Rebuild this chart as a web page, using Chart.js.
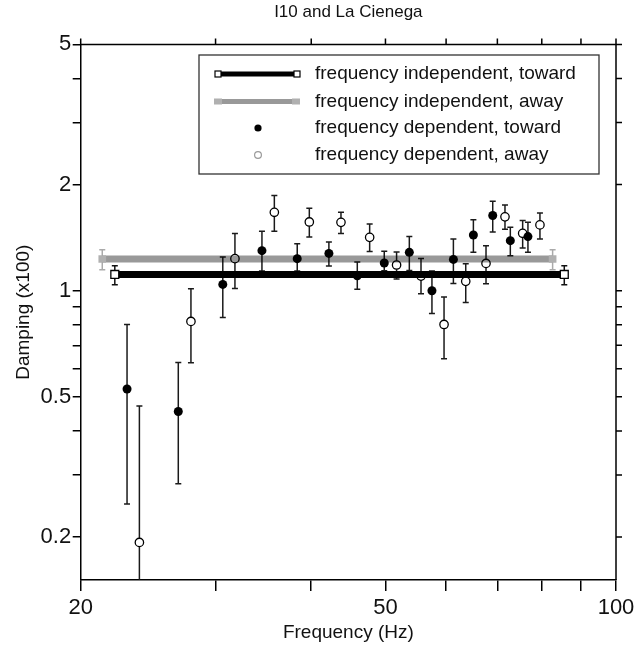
<!DOCTYPE html>
<html lang="en">
<head>
    <meta charset="UTF-8">
    <title>I10 and La Cienega</title>
    <script src="https://cdn.jsdelivr.net/npm/chart.js"></script>
    <style>
        html, body { margin: 0; padding: 0; background: #fff; }
        #wrap { width: 636px; height: 653px; }
    </style>
</head>
<body>
    <div id="wrap"><canvas id="chart" width="636" height="653"></canvas></div>

    <script>
        // frequency dependent damping, toward
        const freqToward = [22.99, 26.82, 30.66, 34.49, 38.35, 42.18, 45.94, 49.82, 53.72, 57.5, 61.33, 65.13, 69.03, 72.78, 76.74];
        const dampToward = [0.526, 0.454, 1.042, 1.299, 1.233, 1.276, 1.103, 1.198, 1.285, 1.0, 1.227, 1.439, 1.634, 1.387, 1.424];
        const lowToward  = [0.248, 0.283, 0.840, 1.137, 1.137, 1.175, 1.009, 1.140, 1.142, 0.862, 1.049, 1.285, 1.468, 1.257, 1.285];
        const highToward = [0.802, 0.626, 1.247, 1.474, 1.360, 1.375, 1.206, 1.293, 1.424, 1.137, 1.403, 1.591, 1.794, 1.513, 1.563];

        // frequency dependent damping, away
        const freqAway = [23.86, 27.86, 31.8, 35.8, 39.77, 43.74, 47.68, 51.7, 55.64, 59.63, 63.65, 67.65, 71.62, 75.53, 79.56];
        const dampAway = [0.193, 0.818, 1.233, 1.669, 1.567, 1.563, 1.417, 1.183, 1.10, 0.802, 1.063, 1.195, 1.620, 1.455, 1.537];
        const lowAway  = [0.10, 0.624, 1.015, 1.474, 1.421, 1.452, 1.291, 1.079, 0.98, 0.641, 0.926, 1.047, 1.494, 1.322, 1.403];
        const highAway = [0.471, 1.013, 1.452, 1.862, 1.713, 1.669, 1.547, 1.288, 1.235, 0.96, 1.193, 1.342, 1.752, 1.583, 1.662];

        // frequency independent fits (value with error, drawn over the band)
        const indepFreqToward = [22.16, 85.6];
        const indepDampToward = 1.112;
        const indepErrToward = [1.04, 1.178];
        const indepFreqAway = [21.34, 82.65];
        const indepDampAway = 1.23;
        const indepErrAway = [1.147, 1.307];

        // axes
        const xTicks = [20, 30, 40, 50, 60, 70, 80, 90, 100];
        const xLabelled = [20, 50, 100];
        const yTicks = [0.2, 0.3, 0.4, 0.5, 0.6, 0.7, 0.8, 0.9, 1, 2, 3, 4, 5];
        const yLabelled = [0.2, 0.5, 1, 2, 5];

        const legendLabels = [
            'frequency independent, toward',
            'frequency independent, away',
            'frequency dependent, toward',
            'frequency dependent, away'
        ];

        const FONT = "'Liberation Sans', Arial, Helvetica, sans-serif";
        const GRAY_LINE = 'rgba(0, 0, 0, 0.4)';

        // error bars go under everything else
        const errorBars = {
            id: 'errorBars',
            beforeDatasetsDraw(chart) {
                const { ctx, chartArea, scales: { x, y } } = chart;
                const bars = [];
                freqToward.forEach((f, i) => bars.push([f, lowToward[i], highToward[i], '#1a1a1a']));
                freqAway.forEach((f, i) => bars.push([f, lowAway[i], highAway[i], '#1a1a1a']));
                indepFreqToward.forEach(f => bars.push([f, indepErrToward[0], indepErrToward[1], '#111']));
                indepFreqAway.forEach(f => bars.push([f, indepErrAway[0], indepErrAway[1], '#aaa']));

                ctx.save();
                ctx.beginPath();
                ctx.rect(chartArea.left, chartArea.top, chartArea.right - chartArea.left, chartArea.bottom - chartArea.top);
                ctx.clip();
                ctx.lineWidth = 1.5;
                bars.forEach(([f, lo, hi, col]) => {
                    const px = x.getPixelForValue(f);
                    const y1 = y.getPixelForValue(lo);
                    const y2 = y.getPixelForValue(hi);
                    ctx.strokeStyle = col;
                    ctx.beginPath();
                    ctx.moveTo(px, y1); ctx.lineTo(px, y2);
                    ctx.moveTo(px - 3, y1); ctx.lineTo(px + 3, y1);
                    ctx.moveTo(px - 3, y2); ctx.lineTo(px + 3, y2);
                    ctx.stroke();
                });
                ctx.restore();
            }
        };

        // top and right sides of the frame, with outward ticks
        const frame = {
            id: 'frame',
            afterDraw(chart) {
                const { ctx, chartArea: a, scales: { x, y } } = chart;
                ctx.save();
                ctx.strokeStyle = '#000';
                ctx.lineWidth = 1.5;
                ctx.beginPath();
                ctx.moveTo(a.left, a.top); ctx.lineTo(a.right, a.top); ctx.lineTo(a.right, a.bottom);
                xTicks.forEach(v => {
                    const px = x.getPixelForValue(v);
                    ctx.moveTo(px, a.top); ctx.lineTo(px, a.top - 6);
                });
                yTicks.forEach(v => {
                    const py = y.getPixelForValue(v);
                    ctx.moveTo(a.right, py); ctx.lineTo(a.right + 6, py);
                });
                ctx.stroke();
                ctx.restore();
            }
        };

        const legendBox = {
            id: 'legendBox',
            afterDraw(chart) {
                const ctx = chart.ctx;
                const rows = [74, 101.5, 128, 155];
                ctx.save();
                ctx.fillStyle = '#fff';
                ctx.fillRect(199, 55, 400, 119);
                ctx.strokeStyle = '#333';
                ctx.lineWidth = 1.3;
                ctx.strokeRect(199, 55, 400, 119);

                // black band with open squares
                ctx.strokeStyle = '#000';
                ctx.lineWidth = 5;
                ctx.beginPath(); ctx.moveTo(218, rows[0]); ctx.lineTo(297, rows[0]); ctx.stroke();
                ctx.lineWidth = 1.2;
                [218, 297].forEach(px => {
                    ctx.fillStyle = '#fff';
                    ctx.fillRect(px - 3, rows[0] - 3, 6, 6);
                    ctx.strokeRect(px - 3, rows[0] - 3, 6, 6);
                });

                // gray band
                ctx.strokeStyle = GRAY_LINE;
                ctx.lineWidth = 5;
                ctx.beginPath(); ctx.moveTo(214, rows[1]); ctx.lineTo(300, rows[1]); ctx.stroke();
                ctx.fillStyle = '#b0b0b0';
                [218, 296].forEach(px => ctx.fillRect(px - 4, rows[1] - 3, 8, 6));

                // dots
                ctx.fillStyle = '#000';
                ctx.beginPath(); ctx.arc(258, rows[2], 3.6, 0, Math.PI * 2); ctx.fill();
                ctx.fillStyle = '#fff';
                ctx.lineWidth = 1.2;
                ctx.beginPath(); ctx.arc(258, rows[3], 3.4, 0, Math.PI * 2); ctx.fill(); ctx.stroke();

                ctx.fillStyle = '#111';
                ctx.font = '19px ' + FONT;
                ctx.textBaseline = 'middle';
                legendLabels.forEach((t, i) => ctx.fillText(t, 315, rows[i]));
                ctx.restore();
            }
        };

        const ctx = document.getElementById('chart').getContext('2d');
        new Chart(ctx, {
            type: 'scatter',
            data: {
                datasets: [
                    {
                        label: legendLabels[0],
                        data: indepFreqToward.map(f => ({ x: f, y: indepDampToward })),
                        showLine: true,
                        borderColor: '#000',
                        borderWidth: 7,
                        borderCapStyle: 'butt',
                        pointStyle: 'rect',
                        pointRadius: 5.6,
                        pointBackgroundColor: '#fff',
                        pointBorderColor: '#000',
                        pointBorderWidth: 1.3
                    },
                    {
                        label: legendLabels[1],
                        data: indepFreqAway.map(f => ({ x: f, y: indepDampAway })),
                        showLine: true,
                        borderColor: GRAY_LINE,
                        borderWidth: 7,
                        borderCapStyle: 'butt',
                        pointStyle: 'rect',
                        pointRadius: 5.4,
                        pointBackgroundColor: '#b0b0b0',
                        pointBorderWidth: 0
                    },
                    {
                        label: legendLabels[2],
                        data: freqToward.map((f, i) => ({ x: f, y: dampToward[i] })),
                        pointStyle: 'circle',
                        pointRadius: 4.5,
                        pointBackgroundColor: '#000',
                        pointBorderColor: '#000',
                        pointBorderWidth: 0
                    },
                    {
                        label: legendLabels[3],
                        data: freqAway.map((f, i) => ({ x: f, y: dampAway[i] })),
                        pointStyle: 'circle',
                        pointRadius: 4.2,
                        pointBackgroundColor: '#fff',
                        pointBorderColor: '#000',
                        pointBorderWidth: 1.3
                    }
                ]
            },
            options: {
                responsive: false,
                animation: false,
                layout: { padding: { left: 0, right: 20, top: 0, bottom: 0 } },
                scales: {
                    x: {
                        type: 'logarithmic',
                        min: 20,
                        max: 100,
                        afterBuildTicks: s => { s.ticks = xTicks.map(v => ({ value: v })); },
                        afterFit: s => { s.height = 73; s.paddingLeft = 0; s.paddingRight = 0; },
                        ticks: {
                            autoSkip: false,
                            maxRotation: 0,
                            padding: 4,
                            color: '#111',
                            font: { family: FONT, size: 22 },
                            callback: v => xLabelled.includes(v) ? String(v) : ''
                        },
                        grid: { drawOnChartArea: false, drawTicks: true, tickLength: 11, color: '#000', lineWidth: 1.5 },
                        border: { display: true, color: '#000', width: 1.5 },
                        title: {
                            display: true,
                            text: 'Frequency (Hz)',
                            color: '#111',
                            font: { family: FONT, size: 19 },
                            padding: { top: 0, bottom: 9 }
                        }
                    },
                    y: {
                        type: 'logarithmic',
                        min: 0.151,
                        max: 5,
                        afterBuildTicks: s => { s.ticks = yTicks.map(v => ({ value: v })); },
                        afterFit: s => { s.width = 80.7; },
                        ticks: {
                            autoSkip: false,
                            padding: 1.5,
                            color: '#111',
                            font: { family: FONT, size: 22 },
                            callback: v => yLabelled.includes(v) ? String(v) : ''
                        },
                        grid: { drawOnChartArea: false, drawTicks: true, tickLength: 8, color: '#000', lineWidth: 1.5 },
                        border: { display: true, color: '#000', width: 1.5 },
                        title: {
                            display: true,
                            text: 'Damping (x100)',
                            color: '#111',
                            font: { family: FONT, size: 19 },
                            padding: { top: 12, bottom: 0 }
                        }
                    }
                },
                plugins: {
                    legend: { display: false },
                    tooltip: { enabled: false },
                    title: {
                        display: true,
                        text: 'I10 and La Cienega',
                        fullSize: false,
                        color: '#111',
                        font: { family: FONT, size: 17, weight: 'normal' },
                        padding: { top: 2, bottom: 22 }
                    }
                }
            },
            plugins: [errorBars, frame, legendBox]
        });
    </script>
</body>
</html>
